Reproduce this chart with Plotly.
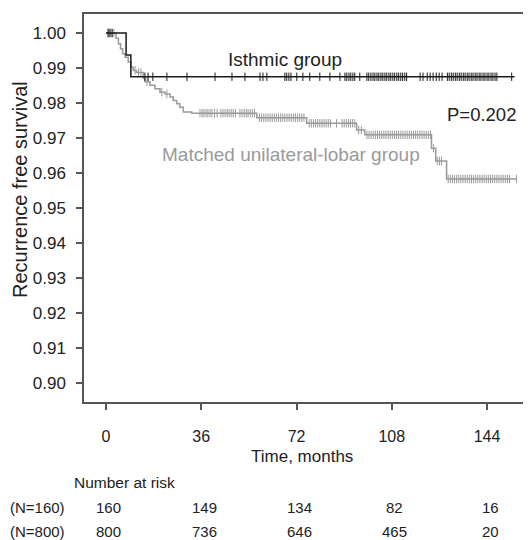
import numpy as np
import plotly.graph_objects as go

# ---------------- data ----------------
iso_times = [0, 7.6, 9.4, 154.4]
iso_surv = [1.0, 0.9937, 0.9875, 0.9875]
iso_censor = [0.8, 1.5, 2.3, 14.7, 15.9, 17.7, 23.0, 30.6, 41.2, 47.6, 52.5, 58.2, 59.3, 60.8,
              67.6, 68.3, 69.1, 69.9, 72.1, 74.4, 77.0, 80.8, 84.6, 88.4, 90.3, 91.0, 91.8, 92.5,
              93.3, 94.0, 95.9, 98.6, 99.3, 100.1, 100.9, 101.6, 102.4, 103.1, 103.9, 104.6, 105.4,
              106.1, 106.9, 107.6, 108.4, 109.1, 109.9, 110.6, 111.4, 112.1, 112.9, 113.6, 118.7,
              119.8, 121.4, 122.5, 123.6, 124.8, 125.9, 127.0, 129.0, 129.7, 130.5, 131.2, 132.0,
              132.7, 133.5, 134.2, 135.0, 135.7, 136.5, 137.2, 138.0, 138.7, 139.5, 140.2, 141.0,
              141.7, 142.5, 143.2, 144.0, 144.7, 145.5, 146.2, 147.0, 147.7, 153.3]

mat_times = [0, 3.8, 4.7, 5.5, 6.3, 7.2, 8.4, 9.4, 10.3, 11.5, 14.1, 14.7, 16.6, 18.5, 20.4,
             22.3, 24.2, 25.4, 26.7, 27.9, 29.2, 32.4, 57.0, 75.8, 94.7, 97.8, 123.0, 124.6,
             128.7, 155.1]
mat_surv = [1.0, 0.9985, 0.9969, 0.9955, 0.9941, 0.9931, 0.9917, 0.9902, 0.9893, 0.9887,
            0.9871, 0.9861, 0.9851, 0.9841, 0.9831, 0.9826, 0.9817, 0.9807, 0.9798, 0.9788,
            0.9774, 0.9771, 0.9758, 0.9742, 0.9723, 0.9709, 0.9671, 0.9634, 0.9583, 0.9583]
mat_censor = [0.8, 1.5, 2.3, 3.0, 11.0, 12.3, 13.2, 15.5, 21.1, 23.0,
              35.5, 36.3, 37.0, 37.8, 38.5, 39.3, 40.0, 41.0, 42.0,
              43.4, 44.2, 45.0, 45.8, 46.5, 47.3, 48.1, 48.9,
              50.6, 51.4, 52.2, 53.0, 53.7, 54.5, 55.3, 56.1,
              58.0, 58.8, 59.6, 60.4, 61.2, 62.0, 62.8, 63.6, 64.4, 65.2, 66.0, 66.8, 67.6, 68.4,
              69.2, 70.0, 70.8, 71.6, 72.4, 73.2, 74.0, 74.8,
              76.8, 77.6, 78.4, 79.2, 80.0, 80.8, 81.6, 82.4, 83.2, 84.0, 84.8, 87.1,
              89.2, 90.0, 90.8, 91.6, 92.4, 93.2, 94.0, 95.5, 96.5,
              98.6, 99.4, 100.2, 101.0, 101.8, 102.6, 103.4, 104.2, 105.0, 105.8, 106.6, 107.4,
              108.2, 109.0, 109.8, 110.6, 111.4, 112.2, 113.0, 113.8, 114.6,
              115.4, 116.2, 117.0, 117.8, 118.6, 119.4, 120.2, 121.0, 121.8, 122.6, 123.8,
              125.2, 126.0, 126.8, 129.3, 130.1, 130.9, 131.7, 132.5, 133.3, 134.1, 134.9,
              135.7, 136.5, 137.3, 138.1, 138.9, 139.7, 140.5, 141.3, 142.1, 142.9, 143.7,
              144.5, 145.3, 146.1, 146.9, 147.7, 148.5, 149.3, 150.1, 150.9, 151.7, 152.5, 155.1]

x_ticks = [0, 36, 72, 108, 144]
y_ticks = [0.90, 0.91, 0.92, 0.93, 0.94, 0.95, 0.96, 0.97, 0.98, 0.99, 1.00]
risk_labels = ["(N=160)", "(N=800)"]
risk_iso = [160, 149, 134, 82, 16]
risk_mat = [800, 736, 646, 465, 20]
p_text = "P=0.202"

# ---------------- figure ----------------
FONT = "Liberation Sans, Arial, Helvetica, sans-serif"
BLACK = "#1a1a1a"
GRAY = "#999999"
TXT = "#222222"


def step_at(times, surv, t):
    idx = np.searchsorted(np.array(times), np.array(t), side="right") - 1
    return np.array(surv)[idx]


fig = go.Figure()
fig.add_trace(go.Scatter(x=mat_times, y=mat_surv, mode="lines", line=dict(color=GRAY, width=1.5, shape="hv"),
                         hoverinfo="skip", showlegend=False))
fig.add_trace(go.Scatter(x=mat_censor, y=step_at(mat_times, mat_surv, mat_censor), mode="markers",
                         marker=dict(symbol="line-ns", size=6, line=dict(color=GRAY, width=1)),
                         showlegend=False, cliponaxis=False))
fig.add_trace(go.Scatter(x=iso_times, y=iso_surv, mode="lines", line=dict(color=BLACK, width=1.5, shape="hv"),
                         hoverinfo="skip", showlegend=False))
fig.add_trace(go.Scatter(x=iso_censor, y=step_at(iso_times, iso_surv, iso_censor), mode="markers",
                         marker=dict(symbol="line-ns", size=6, line=dict(color=BLACK, width=1)),
                         showlegend=False, cliponaxis=False))

# the page body has an 8px margin; lay out in page pixels and shift
OFF = 8
W, H = 531 - OFF, 540 - OFF
L, R, T, B = 84 - OFF, 0, 14 - OFF, 540 - 402
PW, PH = W - L - R, H - T - B


def px(x):
    return (x - OFF - L) / PW


def py(y):
    return (H - B - (y - OFF)) / PH


ann = []
ann.append(dict(text="Recurrence free survival", xref="paper", yref="paper", x=px(20), y=py(190),
                textangle=-90, showarrow=False, font=dict(size=20, color=TXT, family=FONT),
                xanchor="center", yanchor="middle"))
ann.append(dict(text="Time, months", xref="paper", yref="paper", x=px(302), y=py(456),
                showarrow=False, font=dict(size=17, color=TXT, family=FONT), xanchor="center", yanchor="middle"))
ann.append(dict(text="Number at risk", xref="paper", yref="paper", x=px(72), y=py(483),
                showarrow=False, font=dict(size=15.5, color=TXT, family=FONT), xanchor="left", yanchor="middle"))
for lab, row, yy in zip(risk_labels, [risk_iso, risk_mat], [508, 531]):
    ann.append(dict(text=lab, xref="paper", yref="paper", x=px(OFF), y=py(yy), showarrow=False,
                    font=dict(size=15, color=TXT, family=FONT), xanchor="left", yanchor="middle"))
    for t, v in zip(x_ticks, row):
        ann.append(dict(text=str(v), xref="x", yref="paper", x=t, y=py(yy), xshift=3, showarrow=False,
                        font=dict(size=15, color=TXT, family=FONT), xanchor="center", yanchor="middle"))
ann.append(dict(text="Isthmic group", xref="x", yref="y", x=67.6, y=0.9923, showarrow=False,
                font=dict(size=19, color=TXT, family=FONT), xanchor="center", yanchor="middle"))
ann.append(dict(text="Matched unilateral-lobar group", xref="x", yref="y", x=70.0, y=0.9654, showarrow=False,
                font=dict(size=19, color="#9a9a9a", family=FONT), xanchor="center", yanchor="middle"))
ann.append(dict(text=p_text, xref="x", yref="y", x=155.6, y=0.9768, showarrow=False,
                font=dict(size=18.5, color=TXT, family=FONT), xanchor="right", yanchor="middle"))

fig.update_layout(
    width=W, height=H, margin=dict(l=L, r=R, t=T, b=B, pad=0),
    paper_bgcolor="white", plot_bgcolor="white",
    font=dict(family=FONT, color=TXT),
    annotations=ann,
    xaxis=dict(range=[-8.31, 160.6], tickvals=x_ticks, ticktext=[str(v) for v in x_ticks],
               showgrid=False, zeroline=False, showline=True, linecolor="#555555", linewidth=1.5,
               mirror=True, ticks="outside", ticklen=6, tickwidth=1.5, tickcolor="#555555",
               tickfont=dict(size=16, color=TXT, family=FONT), ticklabelstandoff=13),
    yaxis=dict(range=[0.89457, 1.00543], tickvals=y_ticks, ticktext=[f"{v:.2f}" for v in y_ticks],
               showgrid=False, zeroline=False, showline=True, linecolor="#555555", linewidth=1.5,
               ticks="outside", ticklen=6, tickwidth=1.5, tickcolor="#555555",
               tickfont=dict(size=17, color=TXT, family=FONT), ticklabelstandoff=7),
)

fig.write_html("out.html")
